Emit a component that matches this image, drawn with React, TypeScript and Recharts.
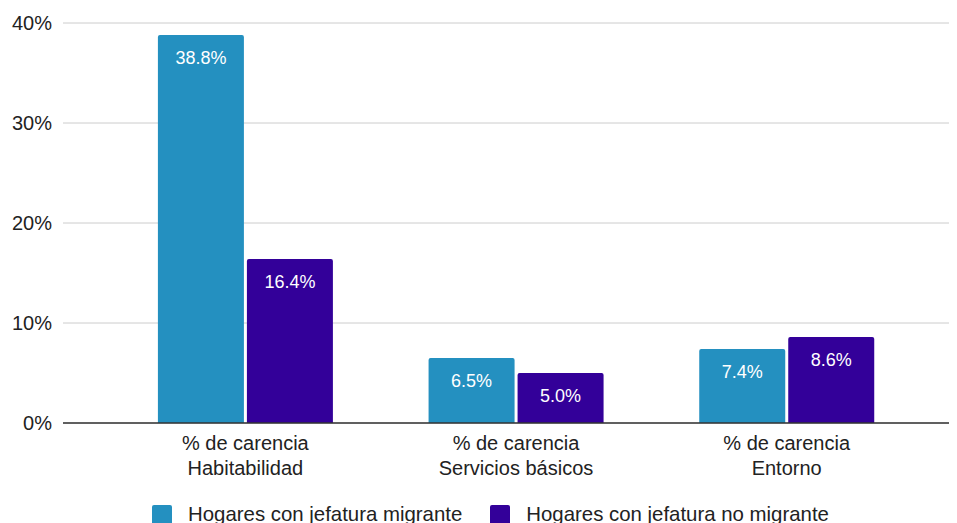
import { BarChart, Bar, XAxis, YAxis, CartesianGrid, LabelList } from "recharts";

const CATEGORIES = ["% de carencia\nHabitabilidad", "% de carencia\nServicios básicos", "% de carencia\nEntorno"];
const MIGRANTE = [38.8, 6.5, 7.4];
const NO_MIGRANTE = [16.4, 5.0, 8.6];
const Y_TICKS = [0, 10, 20, 30, 40];

const SERIES = [
  { key: "migrante", name: "Hogares con jefatura migrante", color: "#2490c0" },
  { key: "noMigrante", name: "Hogares con jefatura no migrante", color: "#330099" },
];

const FONT = "'Liberation Sans', Arial, sans-serif";

const data = CATEGORIES.map((c, i) => ({
  cat: c,
  migrante: MIGRANTE[i],
  noMigrante: NO_MIGRANTE[i],
}));

function CategoryTick(props: any) {
  const { x, y, payload } = props;
  const lines = String(payload.value).split("\n");
  return (
    <g transform={`translate(${x},${y})`}>
      {lines.map((l, i) => (
        <text
          key={i}
          x={0}
          y={i * 25 + 19}
          textAnchor="middle"
          fill="#222"
          fontSize={20}
          fontFamily={FONT}
        >
          {l}
        </text>
      ))}
    </g>
  );
}

// legend drawn as plain html under the plot
function LegendBox() {
  return (
    <div
      style={{
        position: "absolute",
        left: 144,
        top: 495,
        display: "flex",
        alignItems: "center",
        fontFamily: FONT,
        fontSize: 20.4,
        color: "#222",
        whiteSpace: "nowrap",
      }}
    >
      {SERIES.map((s, i) => (
        <div key={s.key} style={{ display: "flex", alignItems: "center", marginRight: i === 0 ? 28 : 0 }}>
          <span
            style={{
              display: "inline-block",
              width: 20,
              height: 20,
              background: s.color,
              borderRadius: 2,
              marginRight: 16,
            }}
          />
          <span>{s.name}</span>
        </div>
      ))}
    </div>
  );
}

export default function App() {
  return (
    <div style={{ position: "relative", width: 949, height: 530 }}>
      <BarChart
        width={949}
        height={530}
        data={data}
        margin={{ top: 15, right: 0, left: 0, bottom: 85 }}
        barCategoryGap="17.7%"
        barGap={3}
      >
        <CartesianGrid vertical={false} stroke="#cccccc" strokeWidth={1} />
        <XAxis
          dataKey="cat"
          tick={<CategoryTick />}
          tickLine={false}
          axisLine={{ stroke: "#333", strokeWidth: 1.5 }}
          padding={{ left: 47, right: 35 }}
          interval={0}
        />
        <YAxis
          domain={[0, 40]}
          ticks={Y_TICKS}
          width={55}
          axisLine={false}
          tickLine={false}
          tickMargin={5}
          tickFormatter={(v: number) => `${v}%`}
          tick={{ fill: "#222", fontSize: 20, fontFamily: FONT }}
        />
        {SERIES.map((s) => (
          <Bar key={s.key} dataKey={s.key} name={s.name} fill={s.color} radius={[2, 2, 0, 0]} isAnimationActive={false}>
            <LabelList
              dataKey={s.key}
              position="insideTop"
              offset={16}
              fill="#ffffff"
              fontSize={18}
              fontFamily={FONT}
              formatter={(v: any) => `${Number(v).toFixed(1)}%`}
            />
          </Bar>
        ))}
      </BarChart>
      <LegendBox />
    </div>
  );
}
